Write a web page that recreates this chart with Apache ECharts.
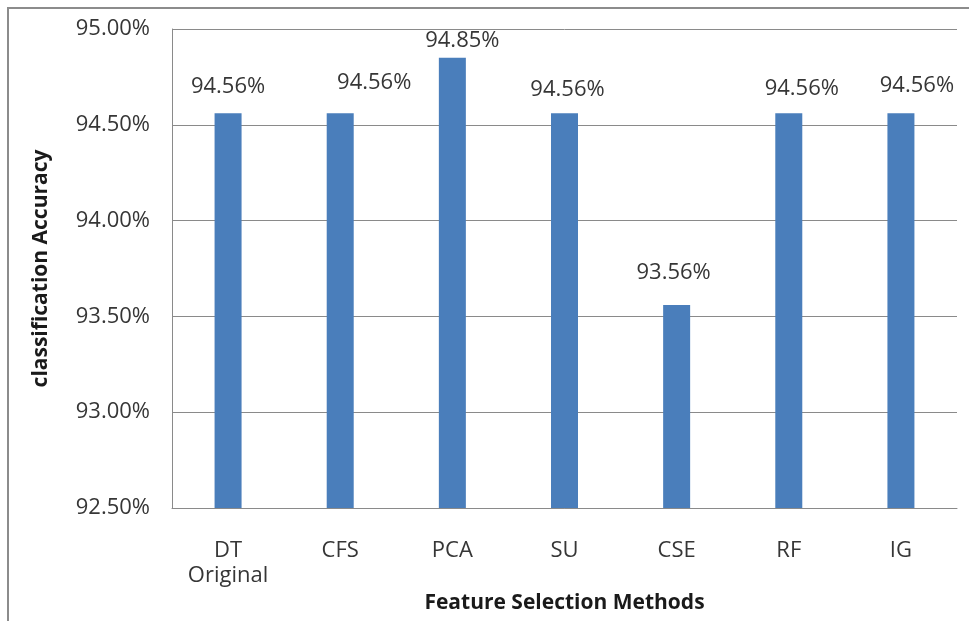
<!DOCTYPE html>
<html>
<head>
<meta charset="utf-8">
<script src="https://cdn.jsdelivr.net/npm/echarts@6/dist/echarts.min.js"></script>
<style>
  html, body { margin: 0; padding: 0; background: #ffffff; }
  #chart { width: 969px; height: 621px; }
</style>
</head>
<body>
<div id="chart"></div>
<script>
// Feature selection methods and the classification accuracy (%) each one reached
const categories = ['DT\nOriginal', 'CFS', 'PCA', 'SU', 'CSE', 'RF', 'IG'];
const accuracy = [94.56, 94.56, 94.85, 94.56, 93.56, 94.56, 94.56];

// Value axis range and step (percent)
const yMin = 92.5;
const yMax = 95.0;
const yStep = 0.5;

// Small nudges [dx, dy] for each value label so they sit as laid out
const labelNudge = [[0, 0], [34, -4], [10, 10], [3, 3], [-3, -5], [13, 2], [16, -1]];

const FONT = '"Open Sans", "Noto Sans", sans-serif';
const TEXT = '#363636';
const LINE = '#8a8a8a';

const chart = echarts.init(document.getElementById('chart'), null, { renderer: 'canvas' });

chart.setOption({
  backgroundColor: '#ffffff',
  animation: false,
  graphic: [{
    type: 'rect',
    shape: { x: 8, y: 8, width: 1000, height: 700 },
    style: { fill: 'none', stroke: '#8c8c8c', lineWidth: 2 },
    silent: true
  }],
  grid: { left: 172, top: 29, right: 12, bottom: 113, containLabel: false },
  xAxis: {
    type: 'category',
    data: categories,
    name: 'Feature Selection Methods',
    nameLocation: 'middle',
    nameGap: 82,
    nameTextStyle: { fontFamily: FONT, fontSize: 21, fontWeight: 'bold', color: '#1a1a1a' },
    axisLine: { show: true, lineStyle: { color: LINE, width: 1 } },
    axisTick: { show: false },
    axisLabel: {
      fontFamily: FONT, fontSize: 22, color: TEXT,
      margin: 30, lineHeight: 25, interval: 0
    }
  },
  yAxis: {
    type: 'value',
    min: yMin,
    max: yMax,
    interval: yStep,
    name: 'classification Accuracy',
    nameLocation: 'middle',
    nameGap: 120,
    nameTextStyle: { fontFamily: FONT, fontSize: 21, fontWeight: 'bold', color: '#1a1a1a' },
    axisLine: { show: true, lineStyle: { color: LINE, width: 1 } },
    axisTick: { show: false },
    splitLine: { show: true, lineStyle: { color: LINE, width: 1 } },
    axisLabel: {
      fontFamily: FONT, fontSize: 22, color: TEXT, margin: 22,
      formatter: v => v.toFixed(2) + '%'
    }
  },
  series: [{
    type: 'bar',
    barWidth: 27,
    itemStyle: { color: '#4a7ebb' },
    data: accuracy.map((v, i) => ({
      value: v,
      label: { offset: labelNudge[i] }
    })),
    label: {
      show: true,
      position: 'top',
      distance: 17,
      fontFamily: FONT,
      fontSize: 22,
      lineHeight: 20,
      color: TEXT,
      formatter: p => p.value.toFixed(2) + '%'
    }
  }]
});
</script>
</body>
</html>
